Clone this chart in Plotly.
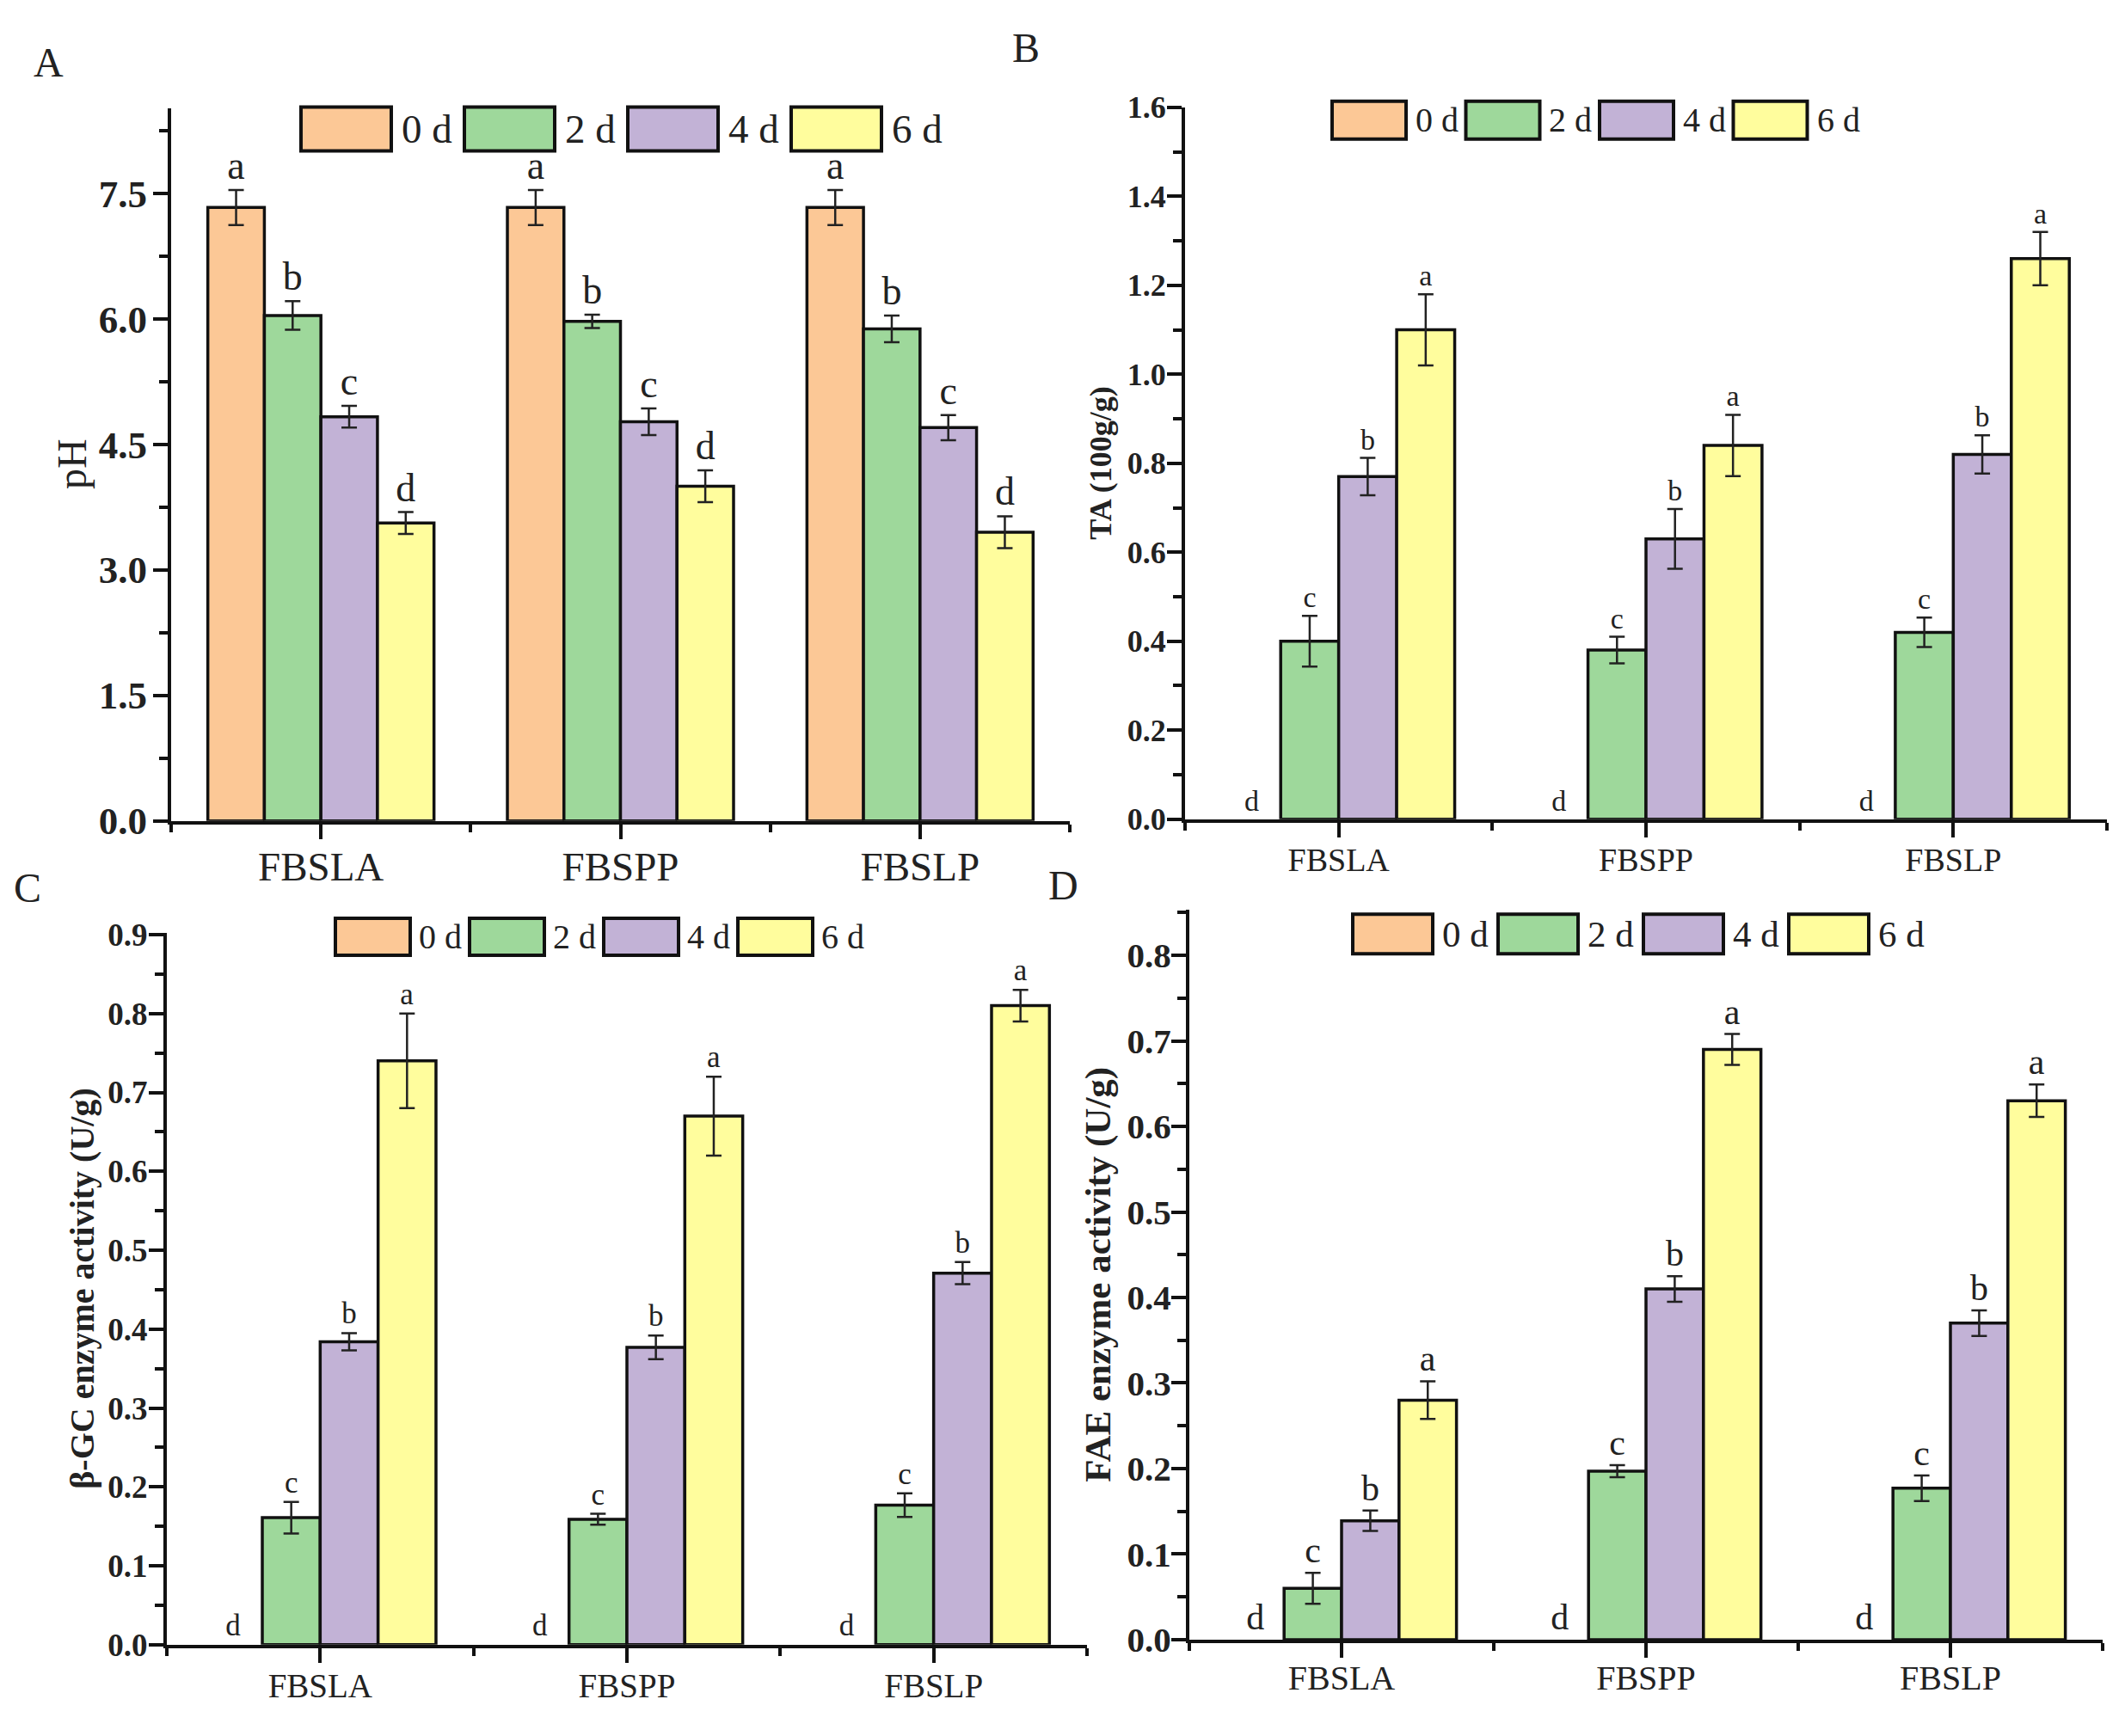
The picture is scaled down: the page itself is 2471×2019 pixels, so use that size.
import plotly.graph_objects as go

W, H = 2471, 2019
FONT = "Liberation Serif"

categories = ["FBSLA", "FBSPP", "FBSLP"]
days = ["0 d", "2 d", "4 d", "6 d"]
day_colors = ["#FCC896", "#9ED89B", "#C2B2D6", "#FFFD9D"]

# A - pH
ph_0d = [7.33, 7.33, 7.33]
ph_2d = [6.04, 5.97, 5.88]
ph_4d = [4.83, 4.77, 4.70]
ph_6d = [3.56, 4.00, 3.45]
ph_0d_err = [0.21, 0.21, 0.21]
ph_2d_err = [0.17, 0.08, 0.16]
ph_4d_err = [0.13, 0.16, 0.15]
ph_6d_err = [0.13, 0.19, 0.19]

# B - TA (100g/g)
ta_0d = [0, 0, 0]
ta_2d = [0.40, 0.38, 0.42]
ta_4d = [0.77, 0.63, 0.82]
ta_6d = [1.10, 0.84, 1.26]
ta_0d_err = [0, 0, 0]
ta_2d_err = [0.057, 0.030, 0.033]
ta_4d_err = [0.042, 0.067, 0.043]
ta_6d_err = [0.080, 0.069, 0.060]

# C - beta-GC enzyme activity (U/g)
gc_0d = [0, 0, 0]
gc_2d = [0.161, 0.159, 0.177]
gc_4d = [0.384, 0.377, 0.471]
gc_6d = [0.740, 0.670, 0.810]
gc_0d_err = [0, 0, 0]
gc_2d_err = [0.020, 0.007, 0.015]
gc_4d_err = [0.011, 0.015, 0.014]
gc_6d_err = [0.060, 0.050, 0.020]

# D - FAE enzyme activity (U/g)
fae_0d = [0, 0, 0]
fae_2d = [0.060, 0.197, 0.177]
fae_4d = [0.139, 0.410, 0.370]
fae_6d = [0.280, 0.690, 0.630]
fae_0d_err = [0, 0, 0]
fae_2d_err = [0.018, 0.007, 0.015]
fae_4d_err = [0.012, 0.015, 0.015]
fae_6d_err = [0.022, 0.018, 0.019]

# significance letters
ph_letters = [["a", "a", "a"], ["b", "b", "b"], ["c", "c", "c"], ["d", "d", "d"]]
rise_letters = [["d", "d", "d"], ["c", "c", "c"], ["b", "b", "b"], ["a", "a", "a"]]

# category slots on the x axis (ticks carry the names)
xpos = list(range(len(categories)))


def px(x):
    return x / W


def py(y):
    return 1 - y / H


# panel placement in pixels: x0, x1 of axis, y top, y baseline
panels = [
    dict(label="A", lab_xy=(56, 55),
         vals=[ph_0d, ph_2d, ph_4d, ph_6d],
         errs=[ph_0d_err, ph_2d_err, ph_4d_err, ph_6d_err],
         lets=ph_letters,
         title="pH", bold_title=False, ytop=8.52, dtick=1.5,
         box=(199, 1244, 109, 957), title_x=83,
         tick_size=45, tick_off=-2, cat_size=47, cat_off=-8,
         let_size=46, title_size=48,
         leg=dict(x0=350, pitch=190, bw=105, y0=108, y1=160, size=47, gap=10)),
    dict(label="B", lab_xy=(1193, 37),
         vals=[ta_0d, ta_2d, ta_4d, ta_6d],
         errs=[ta_0d_err, ta_2d_err, ta_4d_err, ta_6d_err],
         lets=rise_letters,
         title="TA (100g/g)", bold_title=True, ytop=1.6005, dtick=0.2,
         box=(1378, 2450, 108, 955), title_x=1280,
         tick_size=36, tick_off=-6, cat_size=38, cat_off=-6,
         let_size=34, title_size=36,
         leg=dict(x0=1549, pitch=155.5, bw=86, y0=101, y1=146, size=40, gap=9)),
    dict(label="C", lab_xy=(32, 1037),
         vals=[gc_0d, gc_2d, gc_4d, gc_6d],
         errs=[gc_0d_err, gc_2d_err, gc_4d_err, gc_6d_err],
         lets=rise_letters,
         title="β-GC enzyme activity (U/g)", bold_title=True, ytop=0.9025, dtick=0.1,
         box=(194, 1264, 1090, 1937), title_x=96,
         tick_size=37, tick_off=-6, cat_size=39, cat_off=-7,
         let_size=35, title_size=40,
         leg=dict(x0=390, pitch=156, bw=87, y0=1073, y1=1117, size=40, gap=8)),
    dict(label="D", lab_xy=(1236, 1034),
         vals=[fae_0d, fae_2d, fae_4d, fae_6d],
         errs=[fae_0d_err, fae_2d_err, fae_4d_err, fae_6d_err],
         lets=rise_letters,
         title="FAE enzyme activity (U/g)", bold_title=True, ytop=0.853, dtick=0.1,
         box=(1383, 2445, 1063, 1931), title_x=1277,
         tick_size=41, tick_off=-8, cat_size=40, cat_off=-11,
         let_size=42, title_size=43,
         leg=dict(x0=1573, pitch=169, bw=93, y0=1068, y1=1115, size=43, gap=9)),
]

fig = go.Figure()
shapes = []
annotations = []
layout = {}

for k, p in enumerate(panels):
    n = "" if k == 0 else str(k + 1)
    xa, ya = "x" + n, "y" + n
    x0, x1, yt, yb = p["box"]

    for i, day in enumerate(days):
        vals, errs, lets = p["vals"][i], p["errs"][i], p["lets"][i]
        fig.add_trace(go.Bar(
            x=xpos, y=vals, name=day, xaxis=xa, yaxis=ya,
            offsetgroup=str(i), customdata=categories,
            marker=dict(color=day_colors[i],
                        line=dict(color="#111111", width=[3.5 if v else 0 for v in vals])),
            error_y=dict(type="data", array=errs, visible=max(errs) > 0,
                         color="#222222", thickness=2.5, width=9),
            hovertemplate="%{customdata}<br>" + day + ": %{y}<extra></extra>",
            showlegend=False,
        ))
        # transparent twin bar reaching the top of the error bar, carries the letter
        tops = [v + e for v, e in zip(vals, errs)]
        fig.add_trace(go.Bar(
            x=xpos, y=tops, xaxis=xa, yaxis=ya, offsetgroup=str(i),
            marker=dict(color="rgba(0,0,0,0)", line=dict(width=0)),
            text=lets, textposition="outside", textangle=0, constraintext="none",
            cliponaxis=False,
            textfont=dict(family=FONT, size=p["let_size"], color="#222222"),
            hoverinfo="skip", showlegend=False,
        ))

    layout["xaxis" + n] = dict(
        domain=[px(x0), px(x1)], anchor=ya, range=[-0.5, len(categories) - 0.5],
        tickmode="array", tickvals=xpos, ticktext=categories,
        showline=True, linecolor="#111111", linewidth=4, showgrid=False, zeroline=False,
        ticks="outside", ticklen=17, tickwidth=4, tickcolor="#111111",
        minor=dict(ticks="outside", ticklen=9, tickwidth=4, tickcolor="#111111",
                   tick0=0.5, dtick=1),
        tickfont=dict(family=FONT, size=p["cat_size"], color="#222222"),
        ticklabelstandoff=p["cat_off"],
    )
    layout["yaxis" + n] = dict(
        domain=[py(yb), py(yt)], anchor=xa, range=[0, p["ytop"]],
        tick0=0, dtick=p["dtick"], tickformat=".1f",
        showline=True, linecolor="#111111", linewidth=4, showgrid=False, zeroline=False,
        ticks="outside", ticklen=17, tickwidth=4, tickcolor="#111111",
        minor=dict(ticks="outside", ticklen=10, tickwidth=4, dtick=p["dtick"] / 2),
        tickfont=dict(family=FONT, size=p["tick_size"], color="#222222", weight="bold"),
        ticklabelstandoff=p["tick_off"],
    )

    # y axis title
    annotations.append(dict(
        text=p["title"], x=px(p["title_x"]), y=py((yt + yb) / 2),
        xref="paper", yref="paper", showarrow=False, textangle=-90,
        xanchor="center", yanchor="middle",
        font=dict(family=FONT, size=p["title_size"], color="#222222",
                  weight="bold" if p["bold_title"] else "normal"),
    ))

    # panel letter
    lx, ly = p["lab_xy"]
    annotations.append(dict(
        text=p["label"], x=px(lx), y=py(ly), xref="paper", yref="paper",
        showarrow=False, xanchor="center", yanchor="middle",
        font=dict(family=FONT, size=48, color="#222222"),
    ))

    # legend row drawn above each panel
    lg = p["leg"]
    for i, day in enumerate(days):
        bx = lg["x0"] + i * lg["pitch"]
        shapes.append(dict(
            type="rect", xref="paper", yref="paper",
            x0=px(bx), x1=px(bx + lg["bw"]), y0=py(lg["y1"]), y1=py(lg["y0"]),
            fillcolor=day_colors[i], line=dict(color="#111111", width=4),
        ))
        annotations.append(dict(
            text=day, x=px(bx + lg["bw"] + lg["gap"]), y=py((lg["y0"] + lg["y1"]) / 2),
            xref="paper", yref="paper", showarrow=False,
            xanchor="left", yanchor="middle",
            font=dict(family=FONT, size=lg["size"], color="#222222"),
        ))

fig.update_layout(
    width=W, height=H,
    margin=dict(l=0, r=0, t=0, b=0),
    barmode="group", bargap=0.245, bargroupgap=0,
    plot_bgcolor="white", paper_bgcolor="white",
    showlegend=False,
    shapes=shapes, annotations=annotations,
    **layout,
)

fig.write_html("out.html", config={"displayModeBar": False},
               post_script="document.body.style.margin='0';")
